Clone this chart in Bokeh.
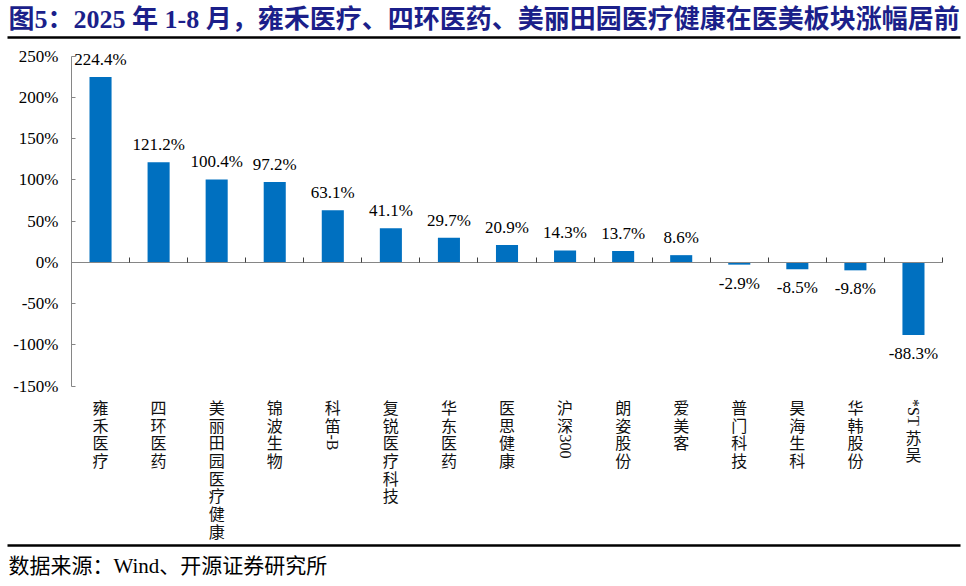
import math
from bokeh.plotting import figure
from bokeh.models import (ColumnDataSource, Range1d, LinearAxis, FixedTicker,
                          PrintfTickFormatter, LabelSet, Label)
from bokeh.core.properties import value
from bokeh.embed import file_html
from bokeh.resources import INLINE

# ---------------- data ----------------
categories = ["雍禾医疗", "四环医药", "美丽田园医疗健康", "锦波生物", "科笛-B", "复锐医疗科技",
              "华东医药", "医思健康", "沪深300", "朗姿股份", "爱美客", "普门科技",
              "昊海生科", "华韩股份", "*ST苏吴"]
returns = [224.4, 121.2, 100.4, 97.2, 63.1, 41.1, 29.7, 20.9, 14.3, 13.7, 8.6,
           -2.9, -8.5, -9.8, -88.3]
y_ticks = [-150, -100, -50, 0, 50, 100, 150, 200, 250]
title_text = "图5：2025 年 1-8 月，雍禾医疗、四环医药、美丽田园医疗健康在医美板块涨幅居前"
source_text = "数据来源：Wind、开源证券研究所"

# ---------------- styles / layout ----------------
SERIF = "Liberation Serif"
CJK = "Noto Sans CJK SC"
MIX = "Liberation Serif, Noto Sans CJK SC"
BAR = "#0070C0"
AXIS = "#868686"

W, H = 966, 586
N = len(categories)
# pixel placement of the plotting box inside the canvas
PX_LEFT, PX_RIGHT = 71.0, 942.0      # x = 0 .. N
PX_TOP, PX_BOTTOM = 55.5, 385.5      # y = max tick .. min tick
ymin, ymax = y_ticks[0], y_ticks[-1]
sx = (PX_RIGHT - PX_LEFT) / N
sy = (PX_BOTTOM - PX_TOP) / (ymax - ymin)
x_range = Range1d(0 - PX_LEFT / sx, N + (W - PX_RIGHT) / sx)
y_range = Range1d(ymin - (H - PX_BOTTOM) / sy, ymax + PX_TOP / sy)

def x_of_px(px):
    return (px - PX_LEFT) / sx

def y_of_px(py):
    return ymax - (py - PX_TOP) / sy

xpos = [i + 0.5 for i in range(N)]   # category slots on the x scale

p = figure(width=W, height=H, x_range=x_range, y_range=y_range,
           x_axis_location=None, y_axis_location=None,
           output_backend="svg", toolbar_location=None,
           min_border=0, min_border_left=0, min_border_right=0,
           min_border_top=0, min_border_bottom=0)
p.grid.visible = False
p.outline_line_color = None
p.background_fill_color = "white"
p.border_fill_color = "white"

# y axis
ya = LinearAxis(fixed_location=0, bounds=(ymin, ymax), ticker=FixedTicker(ticks=y_ticks),
                formatter=PrintfTickFormatter(format="%d%%"))
ya.axis_line_color = AXIS
ya.major_tick_line_color = AXIS
ya.major_tick_in = 4
ya.major_tick_out = 0
ya.minor_tick_line_color = None
ya.major_label_text_font = SERIF
ya.major_label_text_font_size = "17px"
ya.major_label_text_color = "black"
ya.major_label_standoff = 13
p.add_layout(ya, "left")

# x axis line at zero with ticks between categories
xa = LinearAxis(fixed_location=0, bounds=(0, N), ticker=FixedTicker(ticks=list(range(1, N + 1))))
xa.axis_line_color = AXIS
xa.major_tick_line_color = "#404040"
xa.major_tick_in = 5
xa.major_tick_out = 0
xa.minor_tick_line_color = None
xa.major_label_text_font_size = "0px"
xa.major_label_text_alpha = 0
p.add_layout(xa, "below")

# bars
src = ColumnDataSource(dict(
    x=xpos, cat=categories, ret=returns,
    lab=[f"{v:.1f}%" for v in returns],
    off=[12 if v >= 0 else -24 for v in returns]))
p.vbar(x="x", top="ret", bottom=0, width=0.38, source=src,
       fill_color=BAR, line_color=None)
p.add_layout(LabelSet(x="x", y="ret", text="lab", y_offset="off", source=src,
                      text_align="center", text_baseline="alphabetic",
                      text_font=value(SERIF), text_font_size="17px", text_color="black"))

# vertical category labels (CJK upright, one per slot; Latin runs rotated)
LAT_W = {'*': 0.5, 'S': 0.556, 'T': 0.611, '-': 0.333, 'B': 0.667, '3': 0.5, '0': 0.5}
CJK_PX = 16
PITCH = 17.7
TOP_GAP = 12.0
up = dict(x=[], y=[], t=[], off=[])
rot = dict(x=[], y=[], t=[], off=[])
for xc, c in zip(xpos, categories):
    runs = []
    for ch in c:
        is_cjk = ord(ch) > 0x2E80
        if runs and runs[-1][0] == is_cjk:
            runs[-1][1] += ch
        else:
            runs.append([is_cjk, ch])
    pos = 0.0
    for is_cjk, s in runs:
        if is_cjk:
            for ch in s:
                up["x"].append(xc); up["y"].append(ymin)
                up["t"].append(ch); up["off"].append(-(TOP_GAP + pos + PITCH / 2))
                pos += PITCH
        else:
            rot["x"].append(xc); rot["y"].append(ymin)
            rot["t"].append(s); rot["off"].append(-(TOP_GAP + pos + 1))
            pos += sum(LAT_W.get(ch, 0.5) for ch in s) * CJK_PX + 3

p.add_layout(LabelSet(x="x", y="y", text="t", y_offset="off", source=ColumnDataSource(up),
                      text_align="center", text_baseline="middle",
                      text_font=value(CJK), text_font_size=f"{CJK_PX}px", text_color="#111111"))
p.add_layout(LabelSet(x="x", y="y", text="t", y_offset="off", source=ColumnDataSource(rot),
                      angle=-math.pi / 2, text_align="left", text_baseline="middle",
                      text_font=value(SERIF), text_font_size=f"{CJK_PX}px", text_color="#111111"))

# title, rules and source
p.add_layout(Label(x=8, y=H - 18.5, x_units="screen", y_units="screen", text=title_text,
                   text_font=MIX, text_font_size="26px", text_font_style="bold",
                   text_color="#1B1F8A", text_baseline="middle", text_align="left"))
rule_rows = [37, 545]
p.segment(x0=[x_of_px(7)] * 2, x1=[x_of_px(960)] * 2,
          y0=[y_of_px(r) for r in rule_rows], y1=[y_of_px(r) for r in rule_rows],
          line_color="black", line_width=2.6)
p.add_layout(Label(x=8, y=H - 565, x_units="screen", y_units="screen", text=source_text,
                   text_font=MIX, text_font_size="21px",
                   text_color="black", text_baseline="middle", text_align="left"))

open("out.html", "w").write(file_html(p, INLINE))
